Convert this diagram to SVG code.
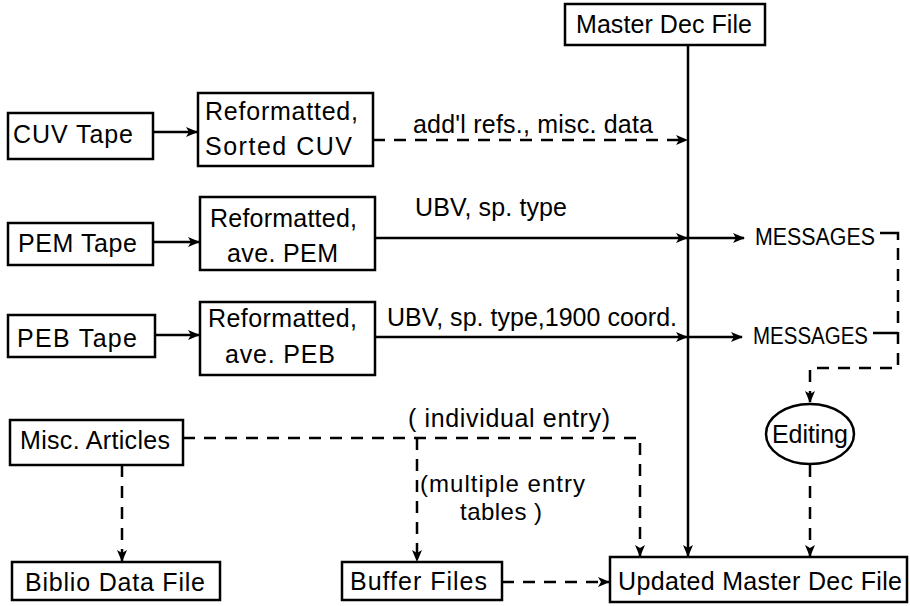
<svg xmlns="http://www.w3.org/2000/svg" width="910" height="606" viewBox="0 0 910 606">
<style>
  .box { fill: #fff; stroke: #000; stroke-width: 2.5; }
  .t { font-family: "Liberation Sans", Arial, sans-serif; font-size: 25px; fill: #000; }
  .m { font-size: 23px; }
  .sm { font-size: 24px; }
  .s { fill: none; stroke: #000; stroke-width: 2.5; }
  .d { fill: none; stroke: #000; stroke-width: 2.5; stroke-dasharray: 12 9; }
</style>
<defs>
  <marker id="ah" viewBox="0 0 12 10" refX="11" refY="5" markerWidth="12" markerHeight="10" markerUnits="userSpaceOnUse" orient="auto">
    <path d="M0,0 L12,5 L0,10 L3,5 z" fill="#000"/>
  </marker>
</defs>
<rect width="910" height="606" fill="#fff"/>

<g id="connectors">
  <path class="s" d="M153,132 H197" marker-end="url(#ah)"/>
  <path class="d" d="M373,140 H687" marker-end="url(#ah)"/>
  <path class="s" d="M153,242 H199" marker-end="url(#ah)"/>
  <path class="s" d="M375,238 H687" marker-end="url(#ah)"/>
  <path class="s" d="M688,238 H744" marker-end="url(#ah)"/>
  <path class="s" d="M155,335 H199" marker-end="url(#ah)"/>
  <path class="s" d="M375,337 H687" marker-end="url(#ah)"/>
  <path class="s" d="M688,337 H742" marker-end="url(#ah)"/>
  <path class="s" d="M688,45 V556" marker-end="url(#ah)"/>
  <path class="s" d="M880,233 H898 V240"/>
  <path class="s" d="M873,333 H898"/>
  <path class="d" d="M898,248 V368 H810 V402" marker-end="url(#ah)"/>
  <path class="d" d="M810,465 V556" marker-end="url(#ah)"/>
  <path class="d" d="M122,465 V561" marker-end="url(#ah)"/>
  <path class="d" d="M183,438 H640 V556" marker-end="url(#ah)"/>
  <path class="d" d="M417,438 V561" marker-end="url(#ah)"/>
  <path class="d" d="M502,582 H609" marker-end="url(#ah)"/>
  <text class="t" x="413" y="133" textLength="240" lengthAdjust="spacing">add'l refs., misc. data</text>
  <text class="t" x="415" y="216" textLength="152" lengthAdjust="spacing">UBV,  sp.  type</text>
  <text class="t" x="387" y="326" textLength="290" lengthAdjust="spacing">UBV, sp. type,1900 coord.</text>
  <text class="t m" x="755" y="245" textLength="120" lengthAdjust="spacingAndGlyphs">MESSAGES</text>
  <text class="t m" x="753" y="344" textLength="115" lengthAdjust="spacingAndGlyphs">MESSAGES</text>
  <text class="t" x="408" y="427" textLength="202" lengthAdjust="spacing">( individual entry)</text>
  <text class="t sm" x="420" y="492" textLength="165" lengthAdjust="spacing">(multiple entry</text>
  <text class="t sm" x="460" y="520" textLength="82" lengthAdjust="spacing">tables )</text>
</g>

<g id="master">
  <rect class="box" x="565" y="4" width="200" height="41"/>
  <text class="t" x="576" y="33" textLength="176" lengthAdjust="spacing">Master Dec File</text>
</g>
<g id="cuvTape">
  <rect class="box" x="8" y="113" width="145" height="46"/>
  <text class="t" x="13" y="143" textLength="120" lengthAdjust="spacing">CUV Tape</text>
</g>
<g id="cuvRef">
  <rect class="box" x="198" y="93" width="175" height="73"/>
  <text class="t" x="205" y="120" textLength="153" lengthAdjust="spacing">Reformatted,</text>
  <text class="t" x="205" y="155" textLength="147" lengthAdjust="spacing">Sorted  CUV</text>
</g>
<g id="pemTape">
  <rect class="box" x="8" y="223" width="145" height="42"/>
  <text class="t" x="18" y="252" textLength="119" lengthAdjust="spacing">PEM Tape</text>
</g>
<g id="pemRef">
  <rect class="box" x="200" y="197" width="175" height="73"/>
  <text class="t" x="210" y="227" textLength="147" lengthAdjust="spacing">Reformatted,</text>
  <text class="t" x="227" y="262" textLength="111" lengthAdjust="spacing">ave. PEM</text>
</g>
<g id="pebTape">
  <rect class="box" x="8" y="315" width="147" height="42"/>
  <text class="t" x="17" y="347" textLength="120" lengthAdjust="spacing">PEB Tape</text>
</g>
<g id="pebRef">
  <rect class="box" x="200" y="302" width="175" height="73"/>
  <text class="t" x="208" y="327" textLength="149" lengthAdjust="spacing">Reformatted,</text>
  <text class="t" x="225" y="363" textLength="110" lengthAdjust="spacing">ave. PEB</text>
</g>
<g id="editing">
  <ellipse class="box" cx="810" cy="434" rx="44" ry="30"/>
  <text class="t" x="772" y="443" textLength="76" lengthAdjust="spacing">Editing</text>
</g>
<g id="misc">
  <rect class="box" x="10" y="420" width="173" height="45"/>
  <text class="t" x="20" y="449" textLength="150" lengthAdjust="spacing">Misc. Articles</text>
</g>
<g id="biblio">
  <rect class="box" x="12" y="562" width="208" height="38"/>
  <text class="t" x="25" y="591" textLength="180" lengthAdjust="spacing">Biblio Data File</text>
</g>
<g id="buffer">
  <rect class="box" x="342" y="562" width="160" height="38"/>
  <text class="t" x="350" y="590" textLength="137" lengthAdjust="spacing">Buffer Files</text>
</g>
<g id="updated">
  <rect class="box" x="610" y="557" width="297" height="45"/>
  <text class="t" x="618" y="590" textLength="284" lengthAdjust="spacing">Updated Master Dec File</text>
</g>
</svg>
